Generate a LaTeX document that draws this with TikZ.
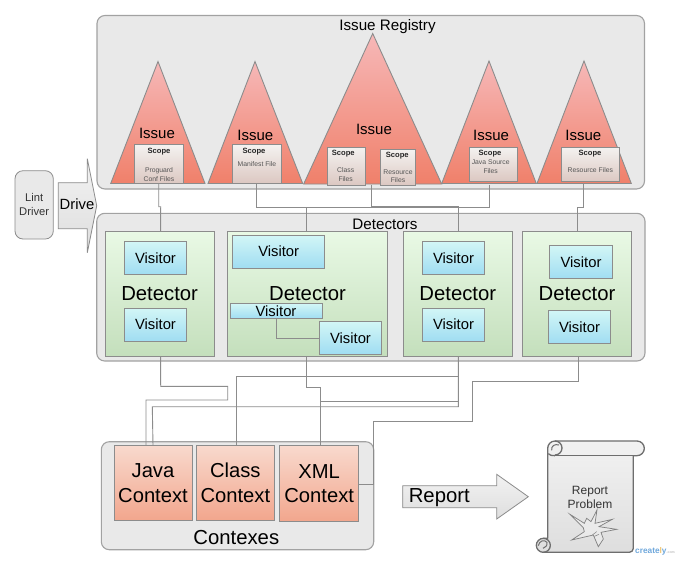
\documentclass[tikz,border=0pt]{standalone}
\usepackage{fontspec}
\setmainfont{Liberation Sans}
\usetikzlibrary{calc}
\definecolor{edgegrey}{HTML}{8C8C8C}
\definecolor{panelgrey}{HTML}{E9E9E9}
\definecolor{panelline}{HTML}{A2A2A2}
\definecolor{inkgrey}{HTML}{555555}
\definecolor{dethigh}{HTML}{E9F9E5}
\definecolor{detlow}{HTML}{C4DFBC}
\definecolor{vishigh}{HTML}{D2F6F6}
\definecolor{vislow}{HTML}{A0DDF2}
\definecolor{ctxhigh}{HTML}{F8D9CD}
\definecolor{ctxlow}{HTML}{F2A68D}
\definecolor{scopehigh}{HTML}{F4F2F0}
\definecolor{scopelow}{HTML}{DCC8C2}
\definecolor{trihigh}{HTML}{F6B8B8}
\definecolor{trilow}{HTML}{F0806A}
\definecolor{arrowhigh}{HTML}{F2F2F2}
\definecolor{arrowlow}{HTML}{DEDEDE}
\definecolor{scrollline}{HTML}{6E6E6E}
\definecolor{brandblue}{HTML}{6FA8DC}
\definecolor{brandsun}{HTML}{F0C674}
\tikzset{
  base/.style={inner sep=0pt,outer sep=0pt,align=center,text=black,line width=0.9pt},
  panel/.style={base,draw=panelline,fill=panelgrey,rounded corners=8pt,line width=1.1pt},
  driverbox/.style={base,draw=edgegrey,fill=panelgrey,rounded corners=8pt,font=\fontsize{11.2}{14}\selectfont,text=black!80,line width=.8pt},
  detbox/.style={base,draw=edgegrey,top color=dethigh,bottom color=detlow,font=\fontsize{20.3}{24}\selectfont},
  visbox/.style={base,draw=edgegrey,top color=vishigh,bottom color=vislow,font=\fontsize{14.8}{18}\selectfont},
  ctxbox/.style={base,draw=edgegrey,top color=ctxhigh,bottom color=ctxlow,font=\fontsize{20.2}{24.6}\selectfont},
  scopebox/.style={base,draw=edgegrey,top color=scopehigh,bottom color=scopelow},
  scopetitle/.style={inner sep=0pt,font=\bfseries\fontsize{7.6}{9}\selectfont,text=black!85},
  scopetext/.style={inner sep=0pt,align=center,font=\fontsize{6.8}{8.6}\selectfont,text=inkgrey},
  issuetri/.style={draw=edgegrey,line width=0.9pt,top color=trihigh,bottom color=trilow,line join=miter},
  issuetext/.style={inner sep=0pt,font=\fontsize{15}{18}\selectfont},
  paneltitle/.style={inner sep=0pt,font=\fontsize{15.2}{18}\selectfont},
  bigtitle/.style={inner sep=0pt,font=\fontsize{20.3}{24}\selectfont},
  conn/.style={draw=edgegrey,line width=0.9pt},
  bigarrow/.style={draw=edgegrey,line width=.8pt,top color=arrowhigh,bottom color=arrowlow},
  scrollpart/.style={draw=scrollline,line width=1.3pt,line join=round},
}
\newcommand{\boxat}[7]{\node[#1,minimum width={(#5-#3)*1pt},minimum height={(#6-#4)*1pt}] (#2) at ({(#3+#5)/2},{(#4+#6)/2}) {#7};}
\begin{document}
\begin{tikzpicture}[x=1pt,y=-1pt]
\useasboundingbox (0,0) rectangle (693,566);
\fill[white] (0,0) rectangle (693,566);

% panels
\boxat{panel}{registry}{97}{15.5}{644.5}{189}{}
\boxat{panel}{detectors}{96.7}{213.3}{645}{361}{}
\boxat{panel}{contexes}{101.3}{441.7}{373.7}{549.7}{}
\node[paneltitle] (registrytitle) at (387.5,27) {Issue Registry};
\node[paneltitle] (detectorstitle) at (385,224) {Detectors};
\node[bigtitle] (contexestitle) at (236.3,537) {Contexes};

% issues
\draw[issuetri] (158,61.5) -- (205,183.5) -- (110.7,183.5) -- cycle;
\draw[issuetri] (255,61.5) -- (302.7,183.5) -- (208,183.5) -- cycle;
\draw[issuetri] (372.7,33.5) -- (441.7,184) -- (303.7,184) -- cycle;
\draw[issuetri] (489,61) -- (536.3,183.5) -- (441.7,183.5) -- cycle;
\draw[issuetri] (584,61) -- (631.3,183.5) -- (537,183.5) -- cycle;
\coordinate (t1) at (158.7,183.5);
\coordinate (t2) at (256,183.5);
\coordinate (t3) at (371.7,184.5);
\coordinate (t4) at (489,184.5);
\coordinate (t5) at (583.7,183.5);
\node[issuetext] (i1) at (157,133.5) {Issue};
\node[issuetext] (i2) at (255.3,135.7) {Issue};
\node[issuetext] (i3) at (374,129.3) {Issue};
\node[issuetext] (i4) at (491,135.7) {Issue};
\node[issuetext] (i5) at (583.3,135.7) {Issue};

% scopes
\boxat{scopebox}{s1}{134.7}{144.7}{183.3}{183}{}
\boxat{scopebox}{s2}{232.7}{144.7}{281}{183}{}
\boxat{scopebox}{s3}{327.7}{147}{365.7}{185}{}
\boxat{scopebox}{s4}{380.3}{149.3}{415.3}{185}{}
\boxat{scopebox}{s5}{469}{147}{517.3}{181}{}
\boxat{scopebox}{s6}{561.7}{147}{619.3}{181.7}{}
\node[scopetitle] (s1t) at (159,151.8) {Scope};
\node[scopetext] (s1d) at (159,174.6) {Proguard\\Conf Files};
\node[scopetitle] (s2t) at (254,151.8) {Scope};
\node[scopetext] (s2d) at (257,164) {Manifest File};
\node[scopetitle] (s3t) at (343.3,154) {Scope};
\node[scopetext] (s3d) at (345.7,174.6) {Class\\Files};
\node[scopetitle] (s4t) at (397.3,156) {Scope};
\node[scopetext] (s4d) at (398,176) {Resource\\Files};
\node[scopetitle] (s5t) at (490,153.8) {Scope};
\node[scopetext] (s5d) at (490.7,166.6) {Java Source\\Files};
\node[scopetitle] (s6t) at (590,153.8) {Scope};
\node[scopetext] (s6d) at (590.3,170.3) {Resource Files};

% detectors
\boxat{detbox}{d1}{105.3}{231}{214}{356}{Detector}
\boxat{detbox}{d2}{227.3}{231}{387.7}{356}{Detector}
\boxat{detbox}{d3}{403.3}{231.3}{512.3}{356}{Detector}
\boxat{detbox}{d4}{522.3}{231.3}{631.7}{356}{Detector}

% visitors
\boxat{visbox}{v1a}{124.3}{241.7}{186.7}{274.3}{Visitor}
\boxat{visbox}{v1b}{124.3}{308.3}{186.7}{341}{Visitor}
\boxat{visbox}{v2a}{232.7}{235.3}{324.7}{268}{Visitor}
\boxat{visbox}{v2b}{230}{303.7}{322}{318.7}{Visitor}
\boxat{visbox}{v2c}{319.3}{321.7}{381.7}{354}{Visitor}
\boxat{visbox}{v3a}{422.3}{241.7}{484.7}{274.3}{Visitor}
\boxat{visbox}{v3b}{422.3}{308.3}{484.7}{341}{Visitor}
\boxat{visbox}{v4a}{549.3}{245.7}{612.7}{278.7}{Visitor}
\boxat{visbox}{v4b}{548.3}{310.3}{610.7}{343.3}{Visitor}

% contexts
\boxat{ctxbox}{java}{114}{445.7}{192}{520.3}{Java\\Context}
\boxat{ctxbox}{class}{196}{445.7}{274.7}{520.3}{Class\\Context}
\boxat{ctxbox}{xml}{279.7}{445.7}{358.7}{521.7}{XML\\Context}

% driver
\boxat{driverbox}{lint}{15}{170.7}{53.3}{239}{Lint\\Driver}
\path[bigarrow] (58.3,182.7) -- (87.3,182.7) -- (87.3,158.7) -- (96.7,205.7) -- (87.3,252.7) -- (87.3,228.7) -- (58.3,228.7) -- cycle;
\node[inner sep=0pt,font=\fontsize{14.8}{18}\selectfont] (drive) at (77,204.3) {Drive};

% report arrow
\path[bigarrow] (402.7,485.7) -- (496.7,485.7) -- (496.7,474.3) -- (528.3,496.7) -- (496.7,519) -- (496.7,507.7) -- (402.7,507.7) -- cycle;
\node[bigtitle] (report) at (439.3,497.4) {Report};

% scroll
\begin{scope}[shift={(535,435)},x=.3333pt,y=-.3333pt]
\path[scrollpart,top color=arrowhigh,bottom color=arrowlow]
  (60,18) -- (306,18) arc[start angle=-90,end angle=90,radius=22] -- (295,62) -- (295,340)
  arc[start angle=0,end angle=90,radius=12] -- (25,352) arc[start angle=90,end angle=270,radius=21] -- (38,310)
  -- (38,40) arc[start angle=180,end angle=270,radius=22] -- cycle;
\draw[scrollpart] (60,62) -- (295,62);
\draw[scrollpart] (60,18) arc[start angle=-90,end angle=90,radius=21] -- (60,60);
\draw[scrollpart] (40,56) .. controls (44,61) and (50,62) .. (60,62);
\draw[scrollpart,line width=1pt] (72,30) .. controls (60,26) and (48,32) .. (50,46);
\draw[scrollpart] (25,310) arc[start angle=-90,end angle=90,radius=21];
\draw[scrollpart,line width=1pt] (10,332) .. controls (12,318) and (28,312) .. (36,322) .. controls (38,332) and (30,338) .. (24,340);
\draw[draw=gray,line width=.7pt,fill=arrowhigh,fill opacity=.5] (105,238) -- (148,265) -- (155,250) -- (168,260) -- (186,225) -- (180,265) -- (232,253) -- (192,275) -- (245,283) -- (198,292) -- (205,312) -- (190,335) -- (175,300) -- (110,315) -- (148,290) -- (145,278) -- cycle;
\draw[draw=gray,line width=.5pt] (172,300) -- (185,290) (178,304) -- (192,298);
\end{scope}
\node[inner sep=0pt,align=center,font=\fontsize{12}{14}\selectfont,text=black!80] (problem) at (590,497) {Report\\Problem};
\node[inner sep=0pt,anchor=west,font=\bfseries\fontsize{8.3}{10}\selectfont,text=brandblue] (brand) at (635,551) {create\textcolor{brandsun}{l}y\textcolor{gray!50}{\fontsize{3.5}{4}\selectfont .com}};

% connectors
\draw[conn] (t1) -- (158.7,206.7) -- (160.7,206.7) -- ([xshift=1pt]d1.north);
\draw[conn] (t2) -- (256,207.3) -- (306.3,207.3) -- ([xshift=-1.2pt]d2.north);
\draw[conn] (t3) -- (371.7,206) -- (458.3,206) -- ([xshift=.5pt]d3.north);
\draw[conn] (t4) -- (489,207.3) -- (306.3,207.3);
\draw[conn] (t5) -- (583.7,207.3) -- (577.7,207.3) -- ([xshift=.7pt]d4.north);
\draw[conn] (v2b.south -| 276.7,0) -- (276.7,338) -- (v2c.west |- 0,338);
\draw[conn] ([xshift=1pt]d1.south) -- (160.7,386.3) -- (227.7,386.3) -- (227.7,400) -- (146,400) -- (java.north -| 146,0);
\draw[conn] ([xshift=.5pt]d3.south) -- (458.3,406.7) -- (152.3,406.7) -- (java.north);
\draw[conn] ([xshift=.5pt]d3.south) -- (458.3,376.7) -- (236.3,376.7) -- (class.north -| 236.3,0);
\draw[conn] ([xshift=-1.2pt]d2.south) -- (306.3,387.3) -- (320.3,387.3) -- (320.3,401.3) -- (xml.north -| 320.3,0);
\draw[conn] (458.3,401.3) -- (320.3,401.3);
\draw[conn] ([xshift=1pt]d4.south) -- (578,381) -- (472.7,381) -- (472.7,421.7) -- (373.7,421.7) -- (373.7,484) -- (xml.east |- 0,484);
\end{tikzpicture}
\end{document}
